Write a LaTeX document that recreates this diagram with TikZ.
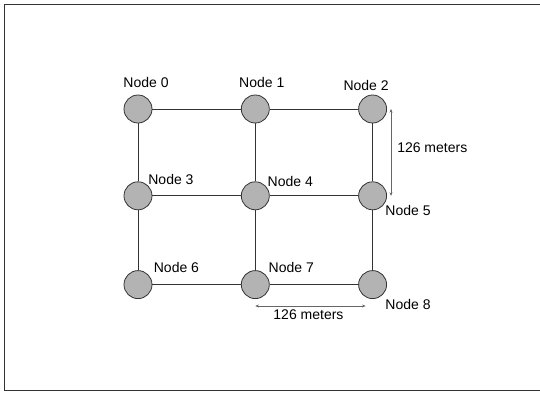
\documentclass[tikz,border=0pt]{standalone}
\usepackage{fontspec}
\setmainfont{Liberation Sans}
\usetikzlibrary{positioning, arrows.meta}
\definecolor{nodegray}{HTML}{B3B3B3}
\definecolor{edgegray}{HTML}{333333}
\tikzset{
  sensor/.style={
    circle, draw=edgegray, fill=nodegray,
    line width=0.8pt, inner sep=0pt,
    minimum size=28pt
  },
  lbl/.style={
    inner sep=0pt, font=\fontsize{14}{16}\selectfont
  },
  link/.style={draw=edgegray, line width=0.8pt},
  dim/.style={draw=gray!80!black, line width=0.5pt,
    {Stealth[length=3.5pt,width=3pt]}-{Stealth[length=3.5pt,width=3pt]}}
}

\begin{document}
\begin{tikzpicture}[node distance=58pt and 88.5pt]

\useasboundingbox (0pt,0pt) rectangle (540pt,-392pt);
\draw[edgegray, line width=1.2pt] (4.5pt,-4.5pt) rectangle (546pt,-390.5pt);

% ==============================================================================
% Grid of nodes
% ==============================================================================
\node[sensor] (n0) at (138pt,-109pt) {};
\node[sensor, right=of n0] (n1) {};
\node[sensor, right=of n1] (n2) {};

\node[sensor, below=of n0] (n3) {};
\node[sensor, right=of n3] (n4) {};
\node[sensor, right=of n4] (n5) {};

\node[sensor, below=60pt of n3] (n6) {};
\node[sensor, right=of n6] (n7) {};
\node[sensor, right=of n7] (n8) {};

% ==============================================================================
% Labels
% ==============================================================================
\node[lbl, above=7pt of n0, xshift=8pt] (l0) {Node 0};
\node[lbl, above=7pt of n1, xshift=6.5pt] (l1) {Node 1};
\node[lbl, above=4pt of n2, xshift=-6.5pt] (l2) {Node 2};
\node[lbl, above right=1pt and 0pt of n3] (l3) {Node 3};
\node[lbl, above right=-1pt and 2pt of n4] (l4) {Node 4};
\node[lbl, below right=-1pt and 2.5pt of n5] (l5) {Node 5};
\node[lbl, above right=2pt and 5.5pt of n6] (l6) {Node 6};
\node[lbl, above right=2pt and 3pt of n7] (l7) {Node 7};
\node[lbl, below right=4pt and 2.5pt of n8] (l8) {Node 8};

% ==============================================================================
% Links
% ==============================================================================
\draw[link] (n0) -- (n1);
\draw[link] (n1) -- (n2);
\draw[link] (n3) -- (n4);
\draw[link] (n4) -- (n5);
\draw[link] (n6) -- (n7);
\draw[link] (n7) -- (n8);

\draw[link] (n0) -- (n3);
\draw[link] (n3) -- (n6);
\draw[link] (n1) -- (n4);
\draw[link] (n4) -- (n7);
\draw[link] (n2) -- (n5);
\draw[link] (n5) -- (n8);

% ==============================================================================
% Distances
% ==============================================================================
\coordinate[right=4pt of n2.east] (v1);
\coordinate[right=4pt of n5.east] (v2);
\coordinate[below=7pt of n7.south] (h1);
\coordinate[below=7pt of n8.south, xshift=-7pt] (h2);

\draw[dim] (v1) -- (v2)
  node[lbl, midway, right=6pt, yshift=5pt] {126 meters};
\draw[dim] (h1) -- (h2)
  node[lbl, midway, below=3pt, xshift=-2pt] {126 meters};

\end{tikzpicture}
\end{document}
